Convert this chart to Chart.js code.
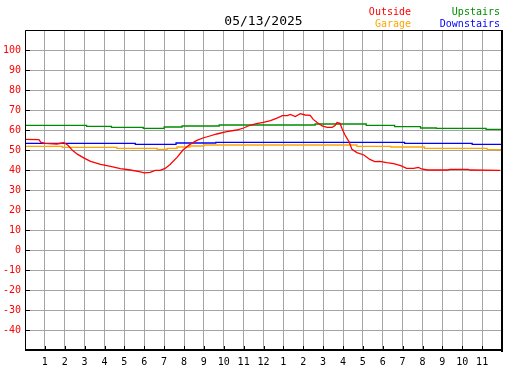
<!DOCTYPE html>
<html>
<head>
<meta charset="utf-8">
<script src="https://cdn.jsdelivr.net/npm/chart.js@4"></script>
<style>
  body { margin: 0; background: #fff; }
  canvas { display: block; }
</style>
</head>
<body>
<canvas id="temp-chart" width="527" height="370"></canvas>
<script>
// readings for 05/13/2025, hours since midnight
var chartTitle = '05/13/2025';

var outsideHours = [0, 0.7, 0.8, 1.0, 1.6, 1.95, 2.15, 2.4, 2.65, 3.0, 3.3, 3.8, 4.3, 4.8, 5.3, 5.75, 6.0, 6.3, 6.55, 6.8,
    7.05, 7.3, 7.65, 7.95, 8.3, 8.65, 8.95, 9.3, 9.65, 10.15, 10.65, 11.0, 11.35, 11.65, 12.0, 12.35, 12.65, 12.95, 13.2, 13.35,
    13.6, 13.85, 14.1, 14.35, 14.5, 14.7, 14.95, 15.2, 15.45, 15.6, 15.7, 15.85, 15.95, 16.1, 16.3, 16.45, 16.7, 17.05, 17.35, 17.6,
    17.85, 18.2, 18.55, 18.9, 19.2, 19.55, 19.8, 19.95, 20.25, 21.25, 21.4, 22.3, 22.4, 23.9];
var outsideTemps = [55.3, 55.2, 53.8, 53.3, 53.0, 53.6, 52.5, 49.7, 47.8, 45.8, 44.3, 42.8, 41.8, 40.7, 40.0, 39.2, 38.6, 38.8, 39.8, 39.8,
    40.8, 42.8, 46.3, 50.0, 52.8, 54.8, 56.0, 57.0, 58.0, 59.2, 60.0, 61.0, 62.5, 63.2, 63.8, 64.7, 65.8, 67.2, 67.2, 67.8,
    66.7, 68.2, 67.5, 67.3, 65.3, 63.7, 62.0, 61.3, 61.3, 62.2, 63.7, 63.3, 60.8, 57.5, 54.2, 50.3, 48.7, 47.5, 45.3, 44.2,
    44.3, 43.7, 43.2, 42.2, 40.8, 40.8, 41.3, 40.5, 40.0, 40.0, 40.3, 40.3, 40.0, 39.8];

// indoor sensors only report on change, so these are step points
var upstairsHours = [0, 3.1, 4.35, 5.95, 7.0, 7.9, 9.77, 14.6, 17.17, 18.6, 19.9, 20.7, 23.2, 24];
var upstairsTemps = [62.3, 61.8, 61.3, 60.8, 61.5, 62.0, 62.5, 63.0, 62.3, 61.7, 61.0, 60.8, 60.3, 60.3];

var downstairsHours = [0, 5.55, 7.6, 9.6, 19.1, 22.5, 24];
var downstairsTemps = [53.3, 52.8, 53.5, 53.8, 53.3, 52.8, 52.8];

var garageHours = [0, 1.88, 4.62, 6.65, 7.15, 7.65, 8.3, 9.0, 16.7, 18.4, 20.1, 23.25, 24];
var garageTemps = [51.8, 51.3, 50.8, 50.3, 50.8, 51.5, 52.0, 52.5, 51.8, 51.5, 50.8, 50.2, 50.2];

var hourLabels = ['', '1', '2', '3', '4', '5', '6', '7', '8', '9', '10', '11', '12',
    '1', '2', '3', '4', '5', '6', '7', '8', '9', '10', '11', ''];
var tempMin = -50;
var tempMax = 110;
var tempStep = 10;

var legendItems = [
    { label: 'Outside', color: '#ff0000', col: 0, row: 0 },
    { label: 'Garage', color: '#ffa500', col: 0, row: 1 },
    { label: 'Upstairs', color: '#008c00', col: 1, row: 0 },
    { label: 'Downstairs', color: '#0000ff', col: 1, row: 1 }
];

function toPoints(hours, temps) {
    var pts = [];
    for (var i = 0; i < hours.length; i++) {
        pts.push({ x: hours[i], y: temps[i] });
    }
    return pts;
}

var MONO = '"DejaVu Sans Mono", "Liberation Mono", monospace';

// frame, inward tick marks, title and the little legend in the corner
var decorPlugin = {
    id: 'decor',
    afterDraw: function (chart) {
        var ctx = chart.ctx;
        var a = chart.chartArea;
        var xs = chart.scales.x;
        var ys = chart.scales.y;
        ctx.save();

        ctx.strokeStyle = '#000';
        ctx.lineWidth = 1;
        ctx.beginPath();
        ys.ticks.forEach(function (t) {
            if (t.value <= tempMin || t.value >= tempMax) return;
            var y = Math.round(ys.getPixelForValue(t.value)) + 0.5;
            ctx.moveTo(a.left, y);
            ctx.lineTo(a.left + 5, y);
        });
        xs.ticks.forEach(function (t) {
            if (t.value <= 0 || t.value >= 24) return;
            var x = Math.round(xs.getPixelForValue(t.value)) + 0.5;
            ctx.moveTo(x, a.bottom);
            ctx.lineTo(x, a.bottom - 4);
        });
        ctx.stroke();

        // top/left thin, right/bottom thick
        ctx.beginPath();
        ctx.moveTo(a.left + 0.5, a.bottom);
        ctx.lineTo(a.left + 0.5, a.top + 0.5);
        ctx.lineTo(a.right, a.top + 0.5);
        ctx.stroke();
        ctx.fillStyle = '#000';
        ctx.fillRect(a.right - 1, a.top, 2, a.bottom - a.top + 2);
        ctx.fillRect(a.left, a.bottom - 1, a.right - a.left + 1, 2);

        ctx.font = '13px ' + MONO;
        ctx.textAlign = 'center';
        ctx.textBaseline = 'alphabetic';
        ctx.fillStyle = '#000';
        ctx.fillText(chartTitle, (a.left + a.right) / 2, 25);

        ctx.font = '10px ' + MONO;
        ctx.textAlign = 'right';
        var colRight = [411, 500];
        var rowBase = [15, 27];
        legendItems.forEach(function (item) {
            ctx.fillStyle = item.color;
            ctx.fillText(item.label, colRight[item.col], rowBase[item.row]);
        });
        ctx.restore();
    }
};

function lineSet(label, hours, temps, color, stepped) {
    return {
        label: label,
        data: toPoints(hours, temps),
        borderColor: color,
        backgroundColor: color,
        borderWidth: 1.3,
        pointRadius: 0,
        tension: 0,
        stepped: stepped ? 'before' : false,
        fill: false
    };
}

var ctx = document.getElementById('temp-chart').getContext('2d');
var chart = new Chart(ctx, {
    type: 'line',
    data: {
        datasets: [
            lineSet('Outside', outsideHours, outsideTemps, '#ff0000', false),
            lineSet('Upstairs', upstairsHours, upstairsTemps, '#008c00', true),
            lineSet('Downstairs', downstairsHours, downstairsTemps, '#0000ff', true),
            lineSet('Garage', garageHours, garageTemps, '#ffa500', true)
        ]
    },
    options: {
        responsive: false,
        animation: false,
        devicePixelRatio: 1,
        layout: { padding: { top: 30, right: 25, left: 0, bottom: 0 } },
        plugins: {
            legend: { display: false },
            title: { display: false },
            tooltip: { enabled: false }
        },
        scales: {
            x: {
                type: 'linear',
                min: 0,
                max: 24,
                afterFit: function (s) { s.height = 20; },
                border: { display: false },
                grid: { color: '#a4a4a4', lineWidth: 1, drawTicks: false },
                ticks: {
                    stepSize: 1,
                    autoSkip: false,
                    maxRotation: 0,
                    padding: 6,
                    color: '#000',
                    font: { family: MONO, size: 10 },
                    callback: function (v) { return hourLabels[v]; }
                }
            },
            y: {
                min: tempMin,
                max: tempMax,
                afterFit: function (s) { s.width = 25; },
                border: { display: false },
                grid: { color: '#a4a4a4', lineWidth: 1, drawTicks: false },
                ticks: {
                    stepSize: tempStep,
                    padding: 4,
                    color: '#ff0000',
                    font: { family: MONO, size: 10 },
                    callback: function (v) {
                        return (v <= tempMin || v >= tempMax) ? '' : String(v);
                    }
                }
            }
        }
    },
    plugins: [decorPlugin]
});
</script>
</body>
</html>
